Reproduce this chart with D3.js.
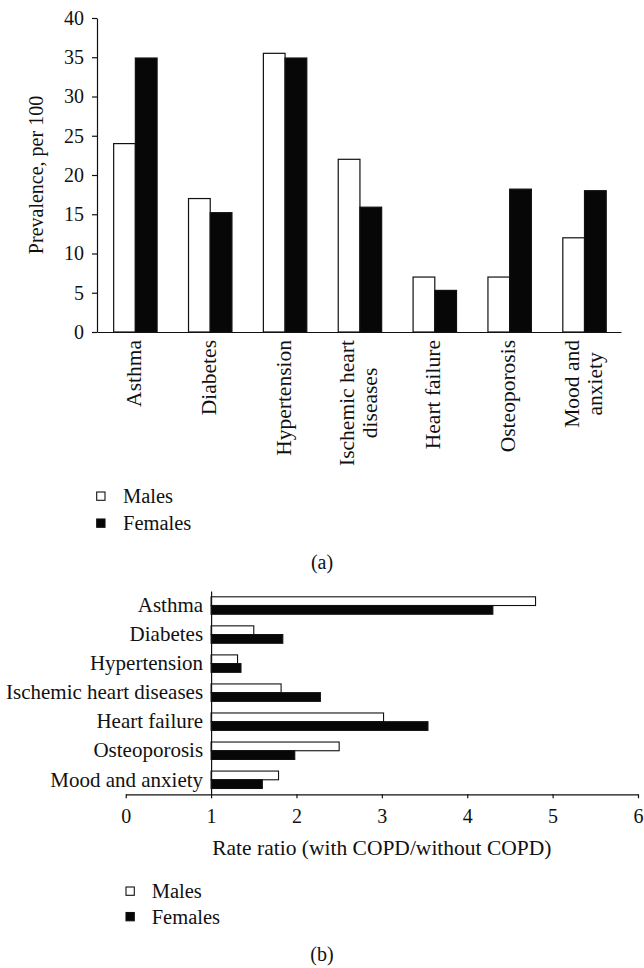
<!DOCTYPE html>
<html>
<head>
<meta charset="utf-8">
<script src="https://cdn.jsdelivr.net/npm/d3@7"></script>
<style>
  html, body { margin: 0; padding: 0; background: #fff; }
  svg { display: block; }
  svg text { font-family: "Liberation Serif", "Times New Roman", serif; fill: #111; }
</style>
</head>
<body>
<script>
// ---------- data ----------
const categories = ["Asthma", "Diabetes", "Hypertension", "Ischemic heart diseases",
                    "Heart failure", "Osteoporosis", "Mood and anxiety"];
const topLabelLines = [["Asthma"], ["Diabetes"], ["Hypertension"], ["Ischemic heart", "diseases"],
                       ["Heart failure"], ["Osteoporosis"], ["Mood and", "anxiety"]];
const seriesNames = ["Males", "Females"];
const prevalenceMales   = [24, 17, 35.5, 22, 7, 7, 12];
const prevalenceFemales = [34.9, 15.2, 34.9, 15.9, 5.3, 18.2, 18];
const ratioMales   = [4.8, 1.5, 1.31, 1.82, 3.02, 2.5, 1.79];
const ratioFemales = [4.3, 1.84, 1.35, 2.28, 3.54, 1.98, 1.6];
const prevalenceTicks = [0, 5, 10, 15, 20, 25, 30, 35, 40];
const ratioTicks = [0, 1, 2, 3, 4, 5, 6];
const prevalenceTitle = "Prevalence, per 100";
const ratioTitle = "Rate ratio (with COPD/without COPD)";
const panelLabels = ["(a)", "(b)"];

const fills = { Males: "#ffffff", Females: "#070707" };
const FONT = '"Liberation Serif", "Times New Roman", serif';

const svg = d3.select("body").append("svg").attr("width", 644).attr("height", 968)
  .attr("font-family", FONT);

// ---------- panel (a) ----------
const yA = d3.scaleLinear().domain([0, 40]).range([332, 18]);
const xA = d3.scaleBand().domain(categories).range([97, 621])
  .paddingInner(0.42).paddingOuter(0.21).align(0.53);
const xASub = d3.scaleBand().domain(seriesNames).range([0, xA.bandwidth()]);

const dataA = categories.map((c, i) => ({ cat: c, Males: prevalenceMales[i], Females: prevalenceFemales[i] }));

const gA = svg.append("g");
gA.selectAll("g.grp").data(dataA).join("g")
  .attr("class", "grp")
  .attr("transform", d => `translate(${xA(d.cat)},0)`)
  .selectAll("rect").data(d => seriesNames.map(s => ({ s, v: d[s] }))).join("rect")
  .attr("x", d => xASub(d.s))
  .attr("width", xASub.bandwidth())
  .attr("y", d => yA(d.v))
  .attr("height", d => yA(0) - yA(d.v))
  .attr("fill", d => fills[d.s])
  .attr("stroke", "#111")
  .attr("stroke-width", 1.2);

const axA = gA.append("g").attr("transform", `translate(97,0)`)
  .call(d3.axisLeft(yA).tickValues(prevalenceTicks).tickSize(5).tickSizeOuter(0).tickPadding(8));
axA.selectAll("text").style("font-size", "20px").style("font-family", FONT).attr("fill", "#111");
axA.selectAll("line, path").attr("stroke", "#111").attr("stroke-width", 1.2);

const axAx = gA.append("g").attr("transform", `translate(0,${yA(0)})`)
  .call(d3.axisBottom(xA).tickSize(0).tickSizeOuter(0).tickFormat(""));
axAx.select("path").attr("stroke", "#111").attr("stroke-width", 1.2);

// category labels (rotated)
categories.forEach((c, i) => {
  const lines = topLabelLines[i];
  const cx = xA(c) + xA.bandwidth() / 2;
  const texts = lines.map(l => gA.append("text").text(l)
    .attr("text-anchor", "middle").style("font-size", "21.5px").style("font-family", FONT));
  const maxW = d3.max(texts, t => t.node().getComputedTextLength());
  const offs = lines.length === 1 ? [5.5] : [-5.5, 17];
  texts.forEach((t, j) => {
    t.attr("transform", `translate(${cx + offs[j]},${340 + maxW / 2}) rotate(-90)`);
  });
});

gA.append("text").text(prevalenceTitle)
  .attr("transform", `translate(43,${(yA(0) + yA(40)) / 2}) rotate(-90)`)
  .attr("text-anchor", "middle").style("font-size", "20px").style("font-family", FONT);

// legend
function legend(g, x, y0, gap, textX) {
  seriesNames.forEach((s, i) => {
    g.append("rect").attr("x", x).attr("y", y0 + i * gap).attr("width", 8.3).attr("height", 8.3)
      .attr("fill", fills[s]).attr("stroke", "#111").attr("stroke-width", 1.1);
    g.append("text").text(s).attr("x", textX).attr("y", y0 + i * gap + 11.3)
      .style("font-size", "20.5px").style("font-family", FONT);
  });
}
legend(gA, 96.7, 492, 27, 123);

gA.append("text").text(panelLabels[0]).attr("x", 322).attr("y", 569)
  .attr("text-anchor", "middle").style("font-size", "20px").style("font-family", FONT);

// ---------- panel (b) ----------
const xB = d3.scaleLinear().domain([0, 6]).range([125.7, 638]);
const yB = d3.scaleBand().domain(categories).range([591, 794.3]).paddingInner(0.4).paddingOuter(0.2);
const yBSub = d3.scaleBand().domain(seriesNames).range([0, yB.bandwidth()]);
const dataB = categories.map((c, i) => ({ cat: c, Males: ratioMales[i], Females: ratioFemales[i] }));

const gB = svg.append("g");
gB.selectAll("g.grp").data(dataB).join("g")
  .attr("class", "grp")
  .attr("transform", d => `translate(0,${yB(d.cat)})`)
  .selectAll("rect").data(d => seriesNames.map(s => ({ s, v: d[s] }))).join("rect")
  .attr("x", xB(1))
  .attr("width", d => xB(d.v) - xB(1))
  .attr("y", d => yBSub(d.s))
  .attr("height", yBSub.bandwidth())
  .attr("fill", d => fills[d.s])
  .attr("stroke", "#111")
  .attr("stroke-width", 1.1);

const axBy = gB.append("g").attr("transform", `translate(${xB(1)},0)`)
  .call(d3.axisLeft(yB).tickSize(0).tickSizeOuter(0).tickPadding(8));
axBy.selectAll("text").style("font-size", "21px").style("font-family", FONT).attr("fill", "#111");
axBy.select("path").attr("stroke", "#111").attr("stroke-width", 1.2);

const axBx = gB.append("g").attr("transform", `translate(0,794.3)`)
  .call(d3.axisBottom(xB).tickValues(ratioTicks).tickSize(4).tickSizeOuter(0).tickPadding(11)
    .tickFormat(d3.format("d")));
axBx.selectAll("text").style("font-size", "20px").style("font-family", FONT).attr("fill", "#111");
axBx.selectAll("line, path").attr("stroke", "#111").attr("stroke-width", 1.2);

gB.append("text").text(ratioTitle).attr("x", (xB(0) + xB(6)) / 2).attr("y", 855)
  .attr("text-anchor", "middle").style("font-size", "21.5px").style("font-family", FONT);

legend(gB, 126, 887, 25.5, 151.7);

gB.append("text").text(panelLabels[1]).attr("x", 322).attr("y", 961)
  .attr("text-anchor", "middle").style("font-size", "20px").style("font-family", FONT);
</script>
</body>
</html>
